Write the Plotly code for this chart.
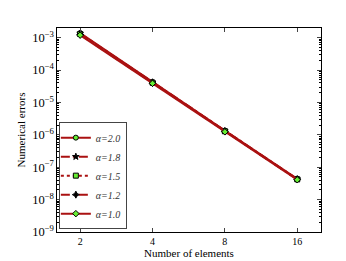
import plotly.graph_objects as go

elements = [2, 4, 8, 16]
labels = ["α=2.0", "α=1.8", "α=1.5", "α=1.2", "α=1.0"]
err_a20 = [1.40e-3, 4.30e-5, 1.35e-6, 4.40e-8]
err_a18 = [1.35e-3, 4.20e-5, 1.32e-6, 4.30e-8]
err_a15 = [1.30e-3, 4.10e-5, 1.30e-6, 4.25e-8]
err_a12 = [1.25e-3, 4.00e-5, 1.27e-6, 4.20e-8]
err_a10 = [1.20e-3, 3.90e-5, 1.24e-6, 4.10e-8]
series = [err_a20, err_a18, err_a15, err_a12, err_a10]

dashes = ["solid", "dashdot", "dot", "dash", "solid"]
symbols = ["circle", "star", "square", "star-diamond", "diamond"]
mfill = ["#66ee33", "black", "#66ee33", "black", "#66ee33"]
line_color = "#aa1111"

fig = go.Figure()
for name, ys, d, s, mf in zip(labels, series, dashes, symbols, mfill):
    fig.add_trace(go.Scatter(
        x=elements, y=ys, name="<i>" + name + "</i>", mode="lines+markers",
        line=dict(color=line_color, width=2, dash=d),
        marker=dict(symbol=s, size=5, color=mf, line=dict(color="black", width=1)),
    ))

font = "Liberation Serif, Times New Roman, serif"
fig.update_layout(
    width=346, height=261,
    margin=dict(l=45, r=33, t=20, b=30),
    paper_bgcolor="white", plot_bgcolor="white",
    font=dict(family=font, size=10, color="black"),
    legend=dict(x=0.007, y=0.014, xanchor="left", yanchor="bottom",
                bordercolor="#444", borderwidth=1, bgcolor="white",
                font=dict(family=font, size=10, color="#333"),
                itemwidth=30, tracegroupgap=0, indentation=-4),
    showlegend=True,
)
fig.update_xaxes(type="log", range=[0.2047, 1.303], tickvals=elements,
                 ticktext=[str(v) for v in elements],
                 ticks="inside", ticklen=4, mirror="allticks", showline=True,
                 linecolor="black", linewidth=1, showgrid=False, zeroline=False,
                 title=dict(text="Number of elements", standoff=2, font=dict(size=11)))
fig.update_yaxes(type="log", range=[-9, -2.7], dtick=1, exponentformat="power",
                 ticks="inside", ticklen=4, mirror="allticks", showline=True,
                 linecolor="black", linewidth=1, showgrid=False, zeroline=False,
                 minor=dict(ticks="inside", ticklen=2, tickcolor="black", showgrid=False),
                 title=dict(text="Numerical errors", standoff=4, font=dict(size=11)))
fig.write_html("out.html")
